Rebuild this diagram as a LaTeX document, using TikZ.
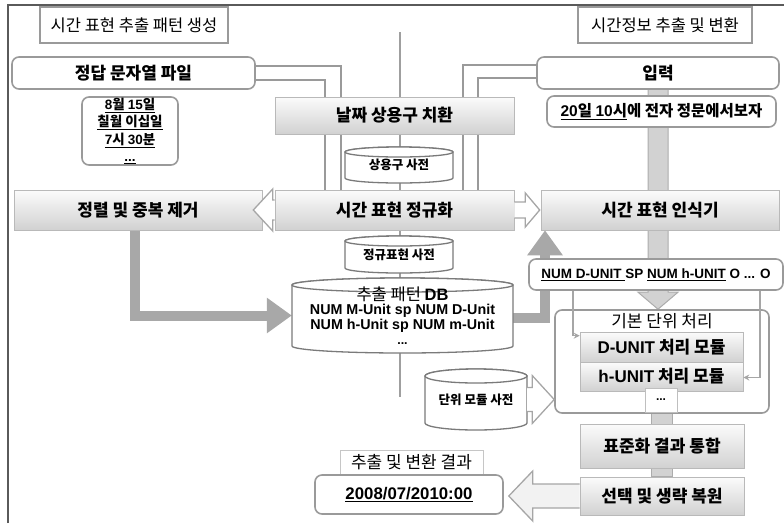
\documentclass[tikz,border=0pt]{standalone}
\usepackage{fontspec}
\setmainfont{Noto Sans CJK KR}
\newfontfamily\lat{Liberation Sans}
\usetikzlibrary{calc,arrows.meta,shadows,backgrounds}
\newcommand\fs[2]{\fontsize{#1}{#2}\selectfont}
\newcommand\LB[1]{{\lat\bfseries #1}}
\definecolor{bordergray}{HTML}{9A9A9A}
\definecolor{fatgray}{HTML}{A8A8A8}
\definecolor{bargray}{HTML}{D2D2D2}
\definecolor{framegray}{HTML}{5A5A5A}
\definecolor{cylgray}{HTML}{7A7A7A}
\tikzset{
  tbox/.style={draw=bordergray, line width=2.2pt, fill=white, inner sep=0pt, font=\fs{16.5}{19}},
  rbox/.style={draw=bordergray, line width=1.6pt, rounded corners=7pt, fill=white, inner sep=0pt, font=\fs{17}{20}\bfseries},
  gbox/.style={draw=gray!55, line width=0.6pt, top color=gray!3, bottom color=gray!36, inner sep=0pt,
    drop shadow={shadow xshift=1.3pt, shadow yshift=-1.3pt, opacity=0.3, fill=black}, font=\fs{17}{20}\bfseries},
  cylst/.style={draw=cylgray, line width=1.3pt, fill=white},
  cyltext/.style={inner sep=0pt, align=center, font=\fs{12.5}{15}\bfseries},
  hollow/.style={draw=gray!70, line width=1.3pt, fill=white, line join=miter},
  fatarrow/.style={draw=fatgray, line width=10pt, line join=miter, -{Triangle[width=34pt,length=25pt]}},
  pipe/.style={draw=bordergray, line width=1.4pt},
  centerline/.style={draw=gray!75, line width=1.4pt},
  thinarrow/.style={draw=gray!70, line width=1.3pt, -{Stealth[length=6pt,width=6pt]}},
  blockarrow/.style={draw=gray!65, line width=1pt, fill=bargray},
}
\newcommand\cyl[7]{%
  \filldraw[cylst] (#2,{#3+#6}) -- (#2,{#5-#6}) arc[start angle=180, end angle=0, x radius={(#4-#2)/2}, y radius=#6] -- (#4,{#3+#6}) arc[start angle=0, end angle=-180, x radius={(#4-#2)/2}, y radius=#6] -- cycle;
  \draw[cylst] ({(#2+#4)/2},{#3+#6}) ellipse[x radius={(#4-#2)/2}, y radius=#6];
  \node[cyltext, minimum width={#4-#2}, minimum height={#5-#3}] (#1) at ({(#2+#4)/2},{(#3+#5)/2}) {#7};
}
\begin{document}
\begin{tikzpicture}[x=1pt,y=-1pt]
\useasboundingbox (0,0) rectangle (784,523);
\draw[framegray, line width=1.2pt] (8,523) -- (8,5) -- (784,5);

% titles
\node[tbox, minimum width=188pt, minimum height=36pt] (t1) at (134,25) {시간 표현 추출 패턴 생성};
\node[tbox, minimum width=174pt, minimum height=36pt] (t2) at (665,25) {시간정보 추출 및 변환};

% left column
\node[rbox, minimum width=243pt, minimum height=32pt] (ans) at (133.5,73) {정답 문자열 파일};
\node[rbox, minimum width=96pt, minimum height=68pt, align=center, font=\fs{13.5}{17.5}\bfseries] (ex) at (130,131)
  {\underline{\LB{8}월 \LB{15}일}\\\underline{칠월 이십일}\\\underline{\LB{7}시 \LB{30}분}\\\underline{\LB{...}}};

% right column top
\node[rbox, minimum width=242pt, minimum height=32pt] (inp) at (658,73) {입력};
\node[rbox, minimum width=229pt, minimum height=31pt, font=\fs{15.5}{18}\bfseries] (sent) at (661.5,111.5)
  {\underline{\LB{20}일 \LB{10}시}에 전자 정문에서보자};

% centre column
\node[gbox, minimum width=239pt, minimum height=37pt] (rep) at (394.5,115.5) {날짜 상용구 치환};
\cyl{dicta}{345}{147}{453}{183}{5}{상용구 사전}
\node[gbox, minimum width=248pt, minimum height=40pt] (sort) at (138,210) {정렬 및 중복 제거};
\node[gbox, minimum width=239pt, minimum height=40pt] (norm) at (394.5,210) {시간 표현 정규화};
\node[gbox, minimum width=238pt, minimum height=40pt] (recog) at (660,210) {시간 표현 인식기};
\cyl{dictb}{345}{236}{453}{273}{5}{정규표현 사전}
\cyl{db}{292}{278}{513}{353}{7}{{\fs{16.5}{17}\mdseries 추출 패턴 \LB{DB}}\\[-1pt]{\fs{14.3}{16.5}\LB{NUM M-Unit sp NUM D-Unit}}\\{\fs{14.3}{16.5}\LB{NUM h-Unit sp NUM m-Unit}}\\\LB{...}}

% sequence and unit processing
\node[rbox, minimum width=254pt, minimum height=31pt, font=\fs{13.5}{16}] (seq) at (656,274.5)
  {\LB{\underline{NUM D-UNIT\ }SP \underline{NUM h-UNIT} O ... O}};
\node[rbox, minimum width=214pt, minimum height=103pt] (basic) at (662,361.5) {};
\node[inner sep=0pt, font=\fs{17}{19}] (basiclab) at (662,321) {기본 단위 처리};
\node[gbox, minimum width=163pt, minimum height=30pt] (dmod) at (661.5,347) {\LB{D-UNIT} 처리 모듈};
\node[gbox, minimum width=163pt, minimum height=29pt] (hmod) at (661.5,376.5) {\LB{h-UNIT} 처리 모듈};
\node[draw=gray!50, line width=0.6pt, fill=white, minimum width=32pt, minimum height=24pt, inner sep=0pt, font=\fs{12}{14}] (dots) at (661,400) {\LB{...}};
\cyl{ud}{425}{369}{527}{430}{7}{단위 모듈 사전}
\node[gbox, minimum width=164pt, minimum height=44pt] (std) at (662,446) {표준화 결과 통합};
\node[gbox, minimum width=164pt, minimum height=38pt] (sel) at (662,496) {선택 및 생략 복원};

% result
\node[draw=gray!45, line width=0.8pt, fill=white, minimum width=143pt, minimum height=25pt, inner sep=0pt, font=\fs{17}{19}] (reslab) at (411.5,462.5) {추출 및 변환 결과};
\node[rbox, minimum width=188pt, minimum height=39pt, font=\fs{16.8}{19}] (res) at (409,494.5) {\underline{\LB{2008/07/2010:00}}};

% background connectors
\begin{scope}[on background layer]
  \draw[centerline] (400,32) -- (400,397);
  \draw[pipe] ($(ans.east)+(0,-7)$) -| ($(norm.north)+(-53.5,0)$);
  \draw[pipe] ($(ans.east)+(0,7)$) -| ($(norm.north)+(-69.5,0)$);
  \draw[pipe] ($(inp.west)+(0,-8)$) -| ($(norm.north)+(68.5,0)$);
  \draw[pipe] ($(inp.west)+(0,5)$) -| ($(norm.north)+(83.5,0)$);
  \coordinate (btip) at (inp.south |- basic.north);
  \filldraw[blockarrow] ($(inp.south)+(-10,0)$) -- ($(btip)+(-10,-17)$) -- ($(btip)+(-20,-17)$) -- (btip)
     -- ($(btip)+(20,-17)$) -- ($(btip)+(10,-17)$) -- ($(inp.south)+(10,0)$);
  \filldraw[blockarrow] ($(dots.south)+(-10,0)$) rectangle ($(sel.north)+(10,0)$);
  % thick grey arrows
  \draw[fatarrow] ($(sort.south)+(-3,0)$) |- (db.west);
  \draw[fatarrow] ($(db.east)+(0,2)$) -| ($(recog.south)+(-115,0)$);
\end{scope}

% hollow arrows
\filldraw[hollow] ($(norm.west)+(0,-10)$) -- ($(norm.west)+(-2,-10)$) -- ($(norm.west)+(-2,-21)$) -- ($(sort.east)+(-9,0)$)
   -- ($(norm.west)+(-2,21)$) -- ($(norm.west)+(-2,10)$) -- ($(norm.west)+(0,10)$);
\filldraw[hollow] ($(norm.east)+(0,-8)$) -- ($(norm.east)+(11,-8)$) -- ($(norm.east)+(11,-17)$) -- ($(recog.west)+(-1,0)$)
   -- ($(norm.east)+(11,17)$) -- ($(norm.east)+(11,8)$) -- ($(norm.east)+(0,8)$);
\filldraw[hollow] ($(ud.east)+(0,-12)$) -- ($(ud.east)+(5,-12)$) -- ($(ud.east)+(5,-24)$) -- (basic.west |- ud.east)
   -- ($(ud.east)+(5,24)$) -- ($(ud.east)+(5,12)$) -- ($(ud.east)+(0,12)$);
\coordinate (rtip) at (res.east |- sel.west);
\filldraw[hollow, fill=gray!10] ($(sel.west)+(0,-12)$) -- ($(sel.west)+(-47,-12)$) -- ($(sel.west)+(-47,-25)$) -- ($(rtip)+(5,0)$)
   -- ($(sel.west)+(-47,25)$) -- ($(sel.west)+(-47,12)$) -- ($(sel.west)+(0,12)$);

% thin arrows
\draw[thinarrow] ($(seq.south)+(-83,0)$) |- ($(dmod.north west)+(0,4)$);
\draw[thinarrow] ($(seq.south)+(104,0)$) |- ($(hmod.east)+(0,1)$);
\end{tikzpicture}
\end{document}
